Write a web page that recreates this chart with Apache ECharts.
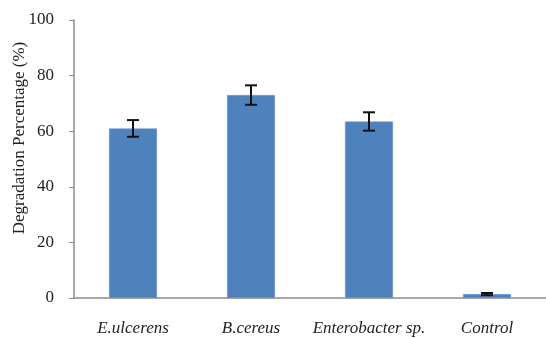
<!DOCTYPE html>
<html>
<head>
<meta charset="utf-8">
<script src="https://cdn.jsdelivr.net/npm/echarts@6/dist/echarts.min.js"></script>
<style>
  html, body { margin: 0; padding: 0; background: #fff; }
  #chart { width: 546px; height: 338px; }
</style>
</head>
<body>
<div id="chart"></div>
<script>
// Degradation percentage per strain, with standard deviation
const categories = ['E.ulcerens', 'B.cereus', 'Enterobacter sp.', 'Control'];
const degradation = [61, 73, 63.5, 1.4];
const errorSD = [3, 3.5, 3.3, 0.4];
const yTicks = [0, 20, 40, 60, 80, 100];

const serif = '"Liberation Serif", serif';
const axisGray = '#8c8c8c';

const errorData = categories.map((c, i) => [i, degradation[i] - errorSD[i], degradation[i] + errorSD[i]]);

const chart = echarts.init(document.getElementById('chart'), null, { renderer: 'canvas' });
chart.setOption({
  animation: false,
  backgroundColor: '#fff',
  grid: { left: 74, right: -2, top: 20, bottom: 40 },
  xAxis: {
    type: 'category',
    data: categories,
    axisLine: { lineStyle: { color: axisGray, width: 1.5 } },
    axisTick: { length: 4, lineStyle: { color: axisGray } },
    axisLabel: {
      interval: 0,
      margin: 22,
      fontFamily: serif,
      fontStyle: 'italic',
      fontSize: 17,
      color: '#222'
    }
  },
  yAxis: {
    type: 'value',
    min: yTicks[0],
    max: yTicks[yTicks.length - 1],
    interval: yTicks[1] - yTicks[0],
    splitLine: { show: false },
    axisLine: { show: true, lineStyle: { color: axisGray, width: 1.5 } },
    axisTick: { show: true, length: 5, lineStyle: { color: axisGray } },
    axisLabel: {
      margin: 20,
      fontFamily: serif,
      fontSize: 17,
      color: '#222'
    }
  },
  graphic: [{
    type: 'text',
    x: 20,
    y: 138,
    rotation: Math.PI / 2,
    style: {
      text: 'Degradation Percentage (%)',
      fontFamily: serif,
      fontSize: 17,
      fill: '#222',
      align: 'center',
      verticalAlign: 'middle'
    }
  }],
  series: [
    {
      type: 'bar',
      data: degradation,
      barWidth: 48,
      itemStyle: { color: '#4F81BD', borderColor: '#6f9ad0', borderWidth: 0.5 }
    },
    {
      type: 'custom',
      data: errorData,
      z: 10,
      renderItem: function (params, api) {
        const x = api.value(0);
        const lo = api.coord([x, api.value(1)]);
        const hi = api.coord([x, api.value(2)]);
        const half = 6;
        const style = { stroke: '#111', lineWidth: 2 };
        return {
          type: 'group',
          children: [
            { type: 'line', shape: { x1: hi[0], y1: hi[1], x2: lo[0], y2: lo[1] }, style: style },
            { type: 'line', shape: { x1: hi[0] - half, y1: hi[1], x2: hi[0] + half, y2: hi[1] }, style: style },
            { type: 'line', shape: { x1: lo[0] - half, y1: lo[1], x2: lo[0] + half, y2: lo[1] }, style: style }
          ]
        };
      }
    }
  ]
});
</script>
</body>
</html>
